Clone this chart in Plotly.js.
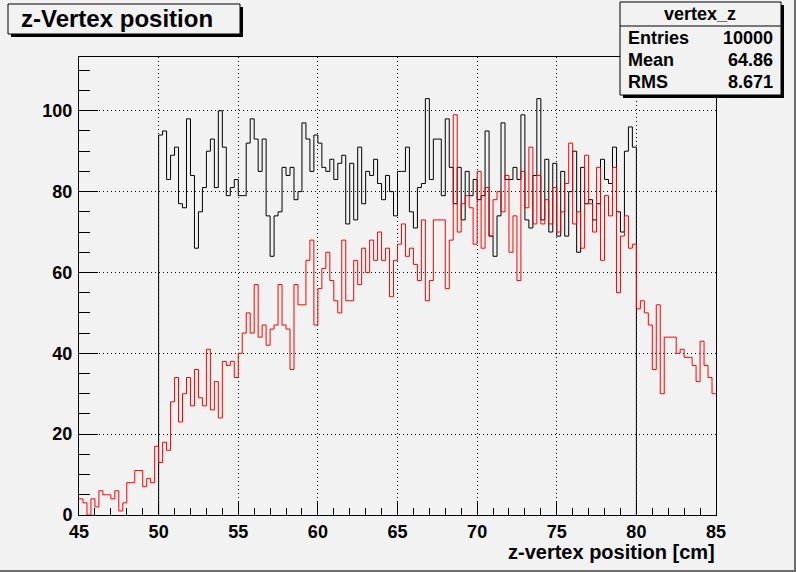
<!DOCTYPE html>
<html>
<head>
<meta charset="utf-8">
<script src="https://cdn.plot.ly/plotly-3.0.1.min.js"></script>
<style>
  html, body { margin: 0; padding: 0; background: #f2f2f2; }
  #chart { width: 796px; height: 572px; }
</style>
</head>
<body>
<div id="chart"></div>
<script>
// ---- data (bin contents) ----
const binWidth = 0.25;
const redStart = 45;      // red histogram: 45 .. 85
const blackStart = 50;    // black histogram: 50 .. 80

const redCounts = [
  4,3,0,4,2,6,5,5,4,6,
  1,3,8,8,11,11,7,9,8,17,
  13,18,16,28,34,23,30,34,27,36,
  29,27,41,26,33,24,38,37,38,34,
  40,45,50,45,57,44,47,42,46,47,
  57,47,46,36,57,52,52,63,68,47,
  56,61,65,58,53,50,68,53,53,63,
  57,66,60,68,63,70,63,66,54,63,
  67,72,64,66,62,58,73,53,58,73,
  73,73,56,68,99,70,77,79,76,67,
  85,66,81,69,78,80,75,84,65,74,
  58,85,76,91,72,84,72,78,72,81,
  70,75,82,92,72,75,66,89,77,70,
  86,63,79,74,86,55,69,74,66,67,
  51,53,50,47,36,52,30,44,44,44,
  40,41,39,39,37,33,43,37,34,30
];

const blackCounts = [
  94,95,83,89,91,77,76,98,84,66,
  75,81,90,93,81,100,91,79,81,83,
  79,79,92,98,93,85,93,74,64,74,
  75,86,84,86,78,80,97,93,85,94,
  92,86,85,88,83,87,89,72,87,73,
  91,77,85,84,88,82,78,84,80,74,
  85,85,91,75,71,81,82,103,83,93,
  93,79,98,86,77,86,73,85,79,83,
  78,79,95,69,64,74,97,83,83,86,
  83,99,73,71,84,103,73,88,70,87,
  69,85,69,80,90,65,86,77,78,73,
  77,88,83,82,91,75,70,90,96,91
];

const xTickVals = [45,50,55,60,65,70,75,80,85];
const yTickVals = [0,20,40,60,80,100];

const statsName = "vertex_z";
const statsLabels = ["Entries","Mean","RMS"];
const statsValues = ["10000","64.86","8.671"];

// ---- build step outlines ----
function stepOutline(start, w, counts, closeEnds) {
  const xs = [], ys = [];
  const n = counts.length;
  if (closeEnds) { xs.push(start); ys.push(0); }
  for (let i = 0; i < n; i++) { xs.push(start + i * w); ys.push(counts[i]); }
  xs.push(start + n * w); ys.push(counts[n - 1]);
  if (closeEnds) { xs.push(start + n * w); ys.push(0); }
  return {xs, ys};
}

const blk = stepOutline(blackStart, binWidth, blackCounts, true);
const red = stepOutline(redStart, binWidth, redCounts, false);

const traces = [
  {x: blk.xs, y: blk.ys, type: 'scatter', mode: 'lines',
   line: {shape: 'hv', color: '#000000', width: 1}, hoverinfo: 'skip', showlegend: false},
  {x: red.xs, y: red.ys, type: 'scatter', mode: 'lines',
   line: {shape: 'hv', color: '#ff0000', width: 1}, hoverinfo: 'skip', showlegend: false}
];

// ---- pixel -> paper helpers for decorations ----
const L = 79, R = 716, T = 57, B = 515;
const X = px => (px - L) / (R - L);
const Y = py => (B - py) / (B - T);

const FONT = 'Liberation Sans, Arial, Helvetica, sans-serif';
const bg = '#f2f2f2';

function box(x0, y0, x1, y1, shadow) {
  const s = [];
  if (shadow) s.push({type: 'rect', xref: 'paper', yref: 'paper',
    x0: X(x0 + 3), x1: X(x1 + 3), y0: Y(y1 + 3), y1: Y(y0 + 3),
    fillcolor: '#000', line: {width: 0}, layer: 'above'});
  s.push({type: 'rect', xref: 'paper', yref: 'paper',
    x0: X(x0), x1: X(x1), y0: Y(y1), y1: Y(y0),
    fillcolor: bg, line: {color: '#000', width: 1}, layer: 'above'});
  return s;
}

const shapes = [].concat(
  box(8, 4, 240, 34, true),
  box(620, 2, 781, 95, true),
  [{type: 'line', xref: 'paper', yref: 'paper', x0: X(620), x1: X(781), y0: Y(26), y1: Y(26),
    line: {color: '#000', width: 1}, layer: 'above'},
   // canvas bevel (right / bottom)
   {type: 'line', xref: 'paper', yref: 'paper', x0: X(795), x1: X(795), y0: Y(0), y1: Y(572),
    line: {color: '#6e6e6e', width: 2}, layer: 'above'},
   {type: 'line', xref: 'paper', yref: 'paper', x0: X(0), x1: X(796), y0: Y(571), y1: Y(571),
    line: {color: '#6e6e6e', width: 2}, layer: 'above'}]
);

function ann(text, px, py, xanchor, size) {
  return {text: text, xref: 'paper', yref: 'paper', x: X(px), y: Y(py),
    xanchor: xanchor, yanchor: 'middle', showarrow: false, borderpad: 0,
    font: {family: FONT, size: size, color: '#000', weight: 'bold'}};
}

const annotations = [
  ann('z-Vertex position', 20, 19, 'left', 24),
  ann(statsName, 700, 14, 'center', 18),
  ann('z-vertex position [cm]', 716, 552, 'right', 20)
];
const rowY = [38, 60, 82];
statsLabels.forEach((lab, i) => {
  annotations.push(ann(lab, 627, rowY[i], 'left', 18));
  annotations.push(ann(statsValues[i], 774, rowY[i], 'right', 18));
});

const axisCommon = {
  showline: true, mirror: true, linecolor: '#000', linewidth: 1,
  showgrid: true, gridcolor: '#000', gridwidth: 1, griddash: '1px,3px',
  zeroline: false, ticks: 'inside', tickcolor: '#000', tickwidth: 1,
  tickfont: {family: FONT, size: 18, color: '#000', weight: 'bold'},
  fixedrange: true
};

const layout = {
  width: 796, height: 572,
  margin: {l: L, r: 796 - R, t: T, b: 572 - B, pad: 0},
  paper_bgcolor: bg, plot_bgcolor: bg,
  showlegend: false,
  xaxis: Object.assign({}, axisCommon, {
    range: [45, 85], tickmode: 'array', tickvals: xTickVals,
    ticktext: xTickVals.map(String), ticklen: 13, ticklabelstandoff: 0,
    minor: {dtick: 1, tick0: 45, ticks: 'inside', ticklen: 7, tickcolor: '#000', showgrid: false}
  }),
  yaxis: Object.assign({}, axisCommon, {
    range: [0, 113.3], tickmode: 'array', tickvals: yTickVals,
    ticktext: yTickVals.map(String), ticklen: 19, ticklabelstandoff: 2,
    minor: {dtick: 5, tick0: 0, ticks: 'inside', ticklen: 11, tickcolor: '#000', showgrid: false}
  }),
  shapes: shapes,
  annotations: annotations
};

Plotly.newPlot('chart', traces, layout, {displayModeBar: false, staticPlot: true});
</script>
</body>
</html>
